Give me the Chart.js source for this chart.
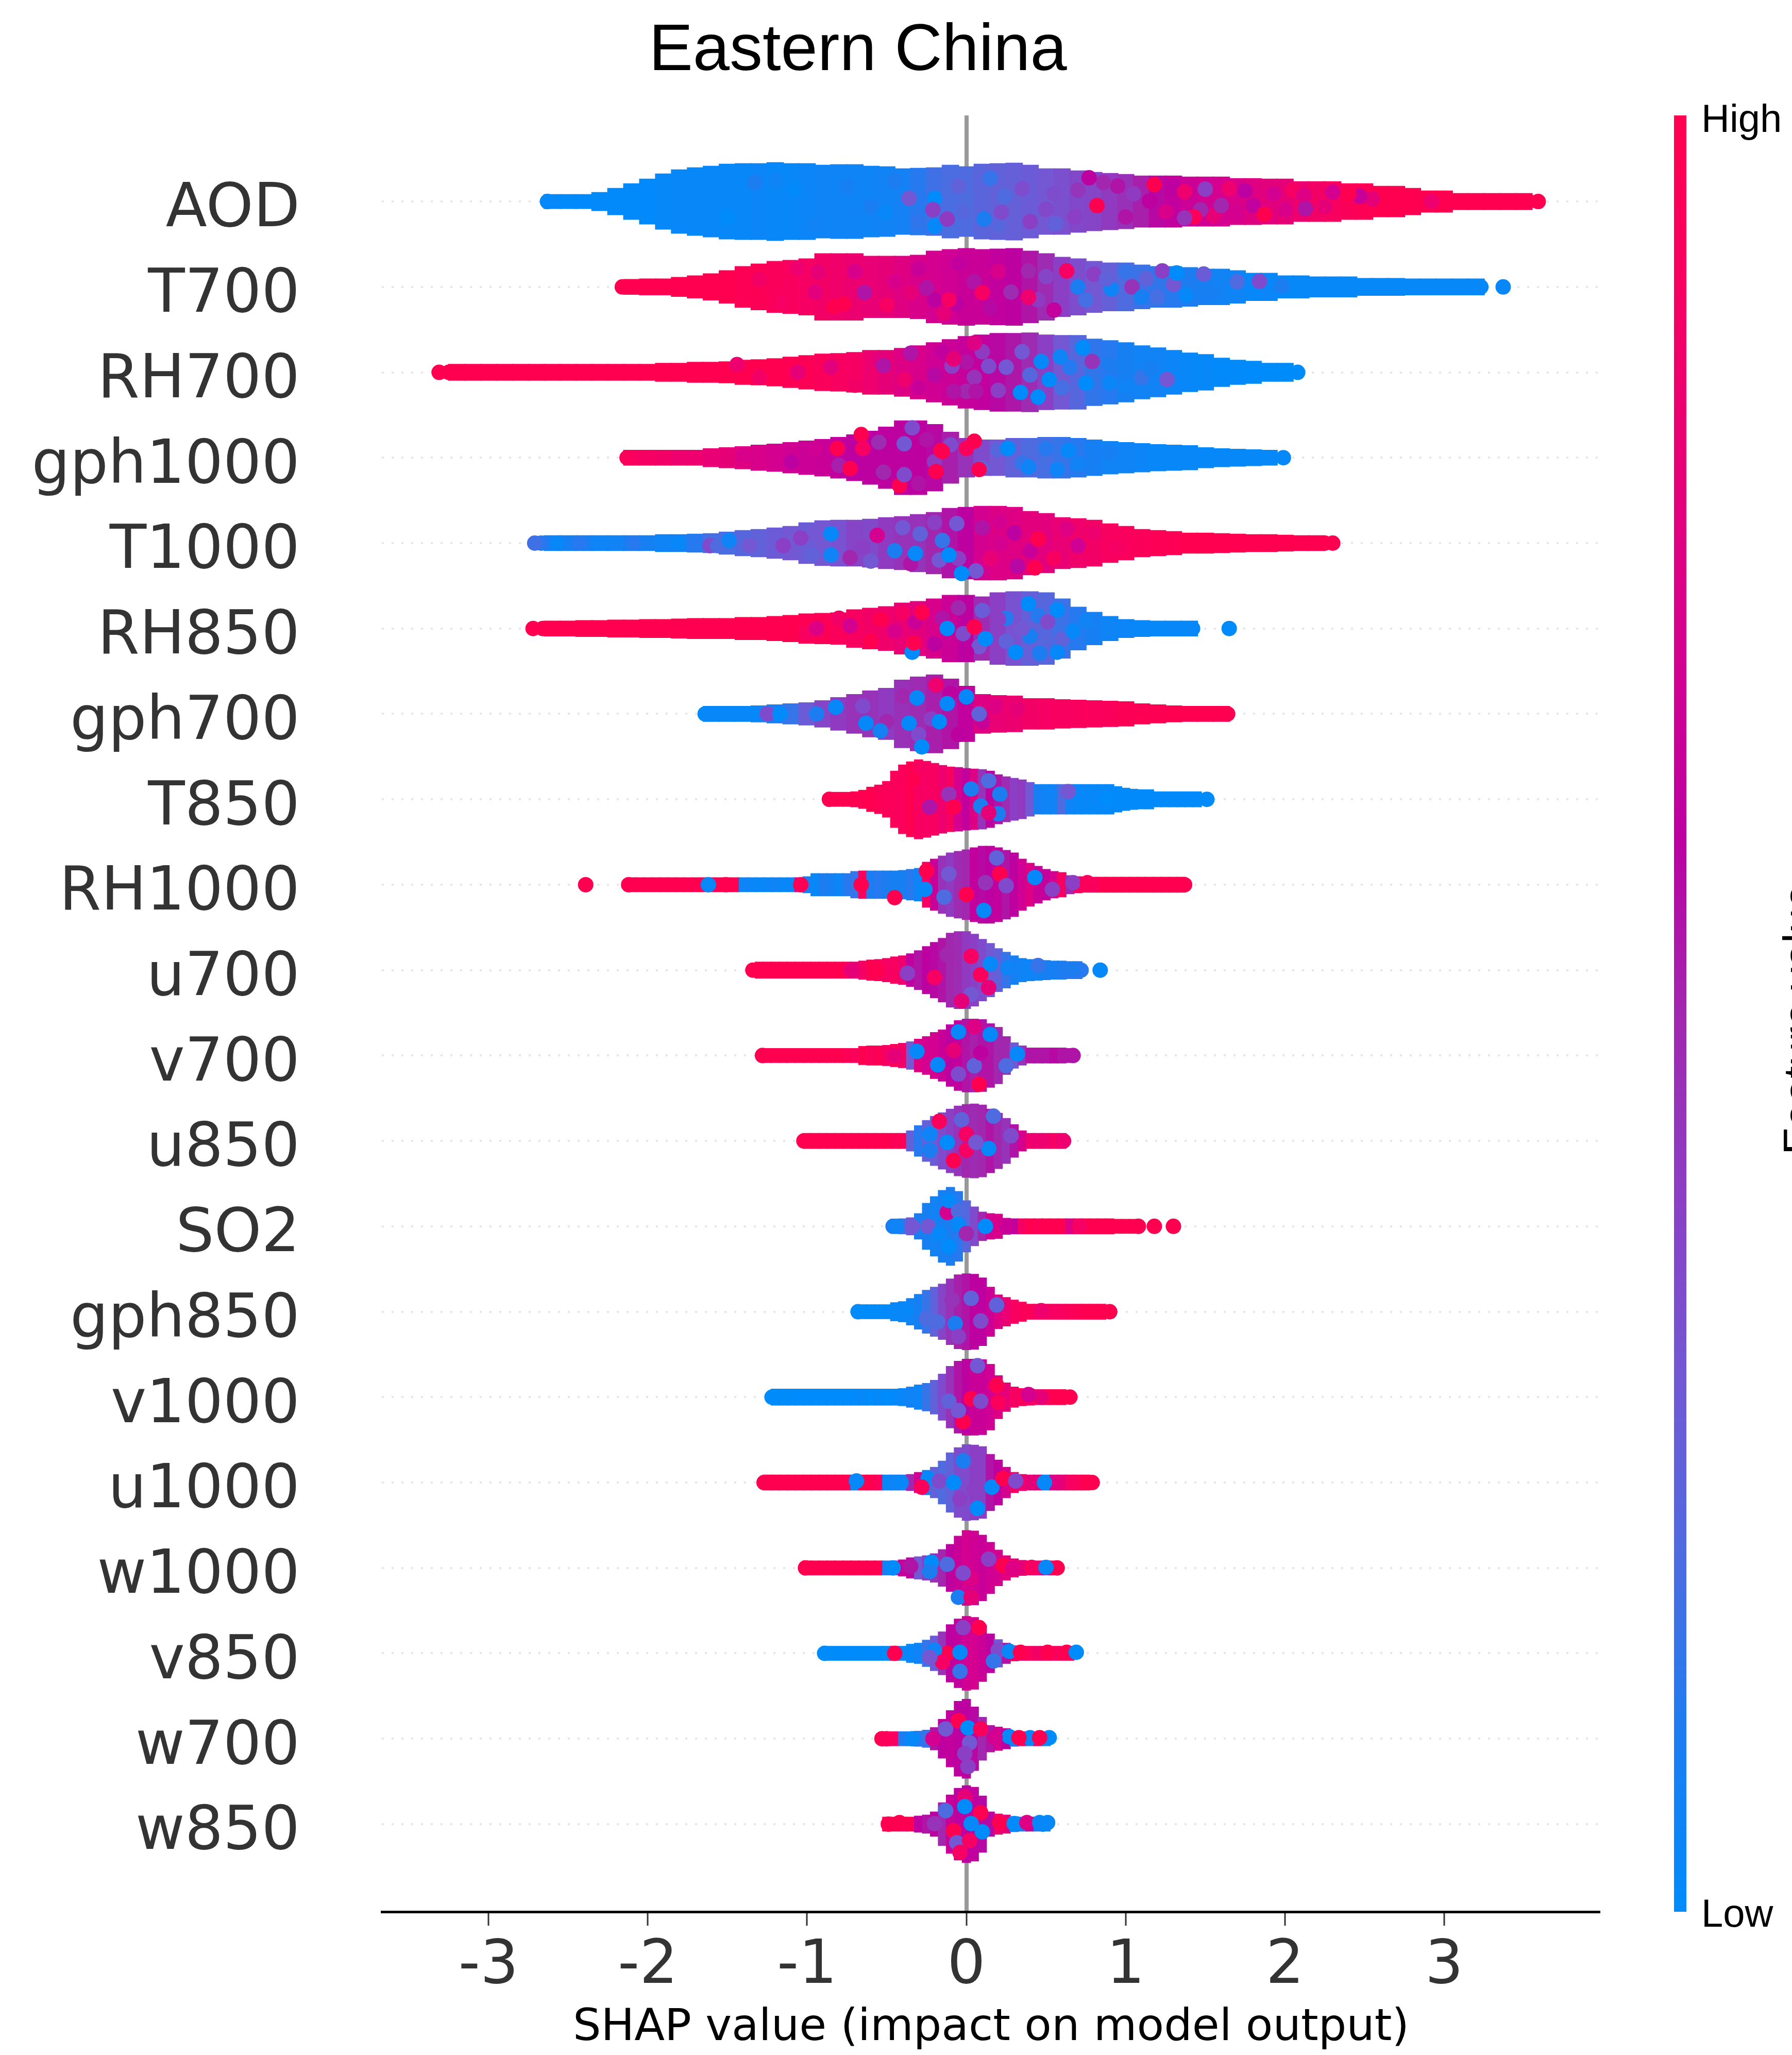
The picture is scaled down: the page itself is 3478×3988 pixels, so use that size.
<!DOCTYPE html>
<html>
<head>
<meta charset="utf-8">
<title>Eastern China</title>
<script src="https://cdn.jsdelivr.net/npm/chart.js@4/dist/chart.umd.min.js"></script>
<style>
  html, body { margin: 0; padding: 0; background: #fff; }
  canvas { display: block; }
</style>
</head>
<body>
<canvas id="chart" width="3478" height="3988"></canvas>
<script>
// features, top row first
const features = ['AOD', 'T700', 'RH700', 'gph1000', 'T1000', 'RH850', 'gph700', 'T850', 'RH1000', 'u700',
  'v700', 'u850', 'SO2', 'gph850', 'v1000', 'u1000', 'w1000', 'v850', 'w700', 'w850'];
const xTicks = [-3, -2, -1, 0, 1, 2, 3];

// each row is binned in SHAP units: first bin, half thickness of the swarm in each bin,
// mean feature value in each bin (0 low .. 100 high), then single dots [shap, offset, value]
const AOD_from = -2.6;
const AOD_spread = [14,14,14,18,26,35,44,54,62,66,69,73,74,74,76,74,74,71,72,72,69,68,64,65,66,71,68,73,74,75,71,64,64,60,57,55,53,50,50,50,48,48,48,45,45,44,44,39,39,39,35,35,30,30,26,21,21,16,16,16,16,16];
const AOD_value = [2,1,1,1,1,1,1,2,3,3,3,3,3,4,3,3,4,5,5,5,5,6,7,12,17,19,20,23,25,26,28,30,33,36,38,42,46,52,58,62,66,68,70,72,76,78,80,84,88,92,96,98,100,100,100,100,100,100,100,100,100,100];
const AOD_dots = [[-2.63,0,2],[3.53,0,100],[3.59,0,100],[-1.5,-30,0],[-1.2,40,5],[-.95,-45,6],[-.75,30,8],[-.6,-10,9],[-.45,40,10],[-.3,-40,14],[-.05,30,25],[-.02,-20,22],[.15,45,15],[.2,-45,22],[.35,25,34],[.5,-15,36],[.55,15,34],[.68,-30,40],[.7,22,44],[.95,30,55],[1,-30,55],[1.05,15,42],[1.25,-20,72],[1.3,25,60],[1.55,-28,80],[1.65,25,85],[1.8,-8,62],[2,-15,72],[2.05,22,90],[2.25,-10,80],[2.3,18,70],[2.55,5,80],[1.18,33,100],[1.5,24,40],[1.37,19,85],[1.75,21,60],[1.93,15,70],[2.12,12,75],[2.13,-14,55],[2.47,10,65],[2.4,15,100],[2.92,0,85],[1.87,-25,100],[1.47,-16,50],[1.15,1,60],[1.69,-21,70],[1.6,-8,50],[1.43,-30,95],[1.37,-32,45],[.82,-8,100],[.4,-39,40],[.24,10,20],[.22,-21,35],[.56,-43,25],[.86,37,50],[-.2,-48,2],[-.2,6,0],[.11,-34,10],[.77,46,60],[-.36,6,30],[-.21,-16,40],[-.12,-34,42],[-1.33,37,10],[-1.08,24,1],[-.51,-21,3]];

const T700_from = -2.1;
const T700_spread = [15,16,16,19,22,26,32,40,45,50,52,55,65,65,65,60,60,60,62,70,73,75,73,74,75,70,65,58,55,50,47,47,43,40,40,38,35,35,32,27,27,22,22,20,20,20,17,17,17,16,16,16,16,16];
const T700_value = [100,100,100,100,100,100,100,98,97,95,93,90,88,86,84,82,80,76,72,70,68,65,65,62,60,55,48,40,34,30,26,20,16,14,12,10,8,6,5,3,3,2,2,2,2,2,2,2,2,2,2,2,2,2];
const T700_dots = [[-2.16,0,100],[3.23,0,2],[3.37,0,3],[-1.3,15,88],[-1.15,-30,90],[-.95,-10,78],[-.7,30,72],[-.5,-35,90],[-.45,10,72],[-.3,35,65],[-.2,-25,60],[-.05,45,62],[.05,10,55],[.15,-40,58],[.2,30,72],[.28,-10,48],[.45,-25,42],[.5,20,38],[.55,-45,62],[.75,-25,18],[.8,25,40],[1,30,15],[1.2,-20,18],[1.3,5,30],[1.55,-12,8],[1.7,10,20],[1.9,-8,4],[-.64,-11,55],[-.77,-33,100],[-.83,-38,100],[-.25,-2,55],[-1.06,36,85],[-.93,29,80],[-.14,-51,80],[-.35,-11,80],[-.06,-33,60],[-.11,-25,90],[.39,31,50],[.63,31,90],[.1,-11,90],[.39,-20,85],[.91,-4,5],[1.04,0,45],[1.23,31,40],[1.32,27,0],[1.38,-16,2],[1.49,25,28],[1.84,11,35],[1.98,2,10],[1.13,16,25],[.88,16,25],[.7,0,10],[1.1,-20,8]];

const RH700_from = -3.2;
const RH700_spread = [16,16,16,16,16,16,16,16,16,16,16,16,16,18,18,20,20,21,24,25,27,30,33,36,37,39,43,43,47,52,58,64,70,73,76,76,77,73,72,72,65,62,58,52,48,43,38,35,28,24,22,18,18];
const RH700_value = [100,100,100,100,100,100,100,100,100,100,100,100,100,100,100,100,100,100,100,100,100,99,97,95,92,90,85,80,75,72,68,66,64,62,58,54,48,40,30,22,14,12,8,6,6,4,3,2,1,1,0,0,0];
const RH700_dots = [[-3.31,0,100],[-3.25,0,100],[2.08,0,0],[-1.3,-10,88],[-.85,10,78],[-.7,-25,88],[-.55,25,78],[-.3,-30,65],[-.2,-5,58],[-.15,40,62],[0,20,55],[.05,-10,45],[.1,40,42],[.2,-35,40],[.25,10,30],[.35,40,30],[.4,-5,22],[.6,-30,18],[.65,10,12],[.9,15,10],[.9,-20,4],[1.1,-10,15],[-.52,13,55],[-1.06,0,80],[-1.44,15,85],[-.35,37,55],[-.09,12,40],[-.39,-14,85],[0,-37,50],[.59,30,5],[.47,21,2],[.73,48,0],[.52,-14,0],[.34,-39,0],[.45,-48,0],[.75,-21,0],[.05,57,75],[.14,12,35],[-.08,26,80],[-.08,-37,55],[.06,-37,55],[1,-28,5],[1.15,8,8],[1.26,-14,30],[.79,21,45]];

const gph1000_from = -2.1;
const gph1000_spread = [15,15,15,15,15,18,20,22,25,27,30,33,36,40,45,52,60,72,72,65,50,38,35,35,38,38,40,40,38,35,32,30,28,26,25,24,20,18,17,16,15];
const gph1000_value = [92,90,88,85,85,82,80,76,72,70,68,66,65,62,60,60,60,60,60,58,52,45,35,30,25,20,18,15,12,8,6,5,4,3,3,3,2,2,2,2,2];
const gph1000_dots = [[-2.13,0,95],[1.99,0,2],[-1.4,5,72],[-1.1,-8,60],[-.95,18,68],[-.8,-15,52],[-.6,-30,60],[-.55,30,48],[-.3,-50,55],[-.25,35,55],[-.2,-8,42],[-.1,25,35],[.1,-20,25],[.2,15,22],[.35,-10,15],[.5,18,12],[.7,-12,6],[.9,10,8],[-.66,45,100],[-.81,18,100],[-.65,18,90],[-.34,58,35],[-.39,27,30],[-.16,14,100],[0,18,95],[-.73,-21,100],[-.42,-54,100],[-.39,-33,35],[-.19,-27,100],[.08,-23,100],[-.52,-28,50],[.39,-18,5],[.57,-23,5],[.26,18,0],[-.15,12,100],[.05,32,100],[.64,14,2]];

const T1000_from = -2.6;
const T1000_spread = [15,15,15,15,15,15,15,17,17,18,19,22,25,27,30,33,40,44,45,45,47,50,52,56,60,68,70,72,72,70,62,58,50,48,45,38,33,27,25,23,20,20,19,18,17,17,16,15,15];
const T1000_value = [5,8,8,5,6,8,8,5,8,12,18,18,22,25,28,30,28,30,32,38,36,42,45,45,50,55,60,70,74,75,78,78,82,86,88,92,94,96,98,98,100,100,100,100,100,100,100,100,100];
const T1000_dots = [[2.25,0,100],[2.3,0,100],[-2.64,0,10],[-2.67,0,12],[-1.15,-5,40],[-.95,20,30],[-.65,-8,40],[-.6,-35,30],[-.4,30,30],[-.35,-40,55],[-.2,40,40],[-.15,5,15],[-.05,-30,40],[.1,30,55],[.15,-30,82],[.3,20,60],[.32,-45,58],[.4,-15,65],[.55,-30,92],[.7,-5,68],[.8,20,85],[.95,-10,90],[-2.71,0,17],[-2.57,0,3],[-2.43,0,12],[-2.28,0,5],[-2.09,0,12],[-1.81,0,3],[-1.61,-5,35],[-1.56,-5,20],[-1.36,-5,30],[-1.49,5,5],[-1.04,10,40],[-.85,18,2],[-.97,-23,25],[-.85,-23,5],[-.73,-28,50],[-.56,15,70],[-.45,-15,10],[-.32,-20,2],[-.29,18,25],[-.17,-33,30],[-.11,-23,0],[-.06,38,30],[.21,0,70],[.45,8,100],[.43,-48,100],[.06,-54,30],[-.03,-59,0],[.63,28,75],[.21,41,70]];

const RH850_from = -2.6;
const RH850_spread = [15,15,16,16,17,17,18,18,19,20,20,20,22,22,24,26,29,30,31,37,40,43,50,53,58,65,65,62,70,72,72,70,58,42,32,24,18,16,15,15,15];
const RH850_value = [100,100,100,100,100,100,100,100,100,100,100,100,100,100,100,100,98,97,95,92,88,86,82,78,72,66,60,48,40,32,26,22,16,12,8,5,4,3,2,2,2];
const RH850_dots = [[-2.72,0,100],[-2.66,0,100],[1.42,0,3],[1.65,0,0],[-1,-10,92],[-.8,20,88],[-.6,-25,100],[-.45,-5,72],[-.4,30,90],[-.2,-30,60],[-.15,20,55],[-.05,40,50],[.08,-35,30],[.1,35,28],[.25,20,12],[.25,-25,25],[.4,-15,8],[.45,25,12],[.6,-20,25],[.75,15,6],[-.73,5,70],[-.94,0,75],[-.54,18,100],[-.32,13,65],[-.28,31,100],[-.12,0,0],[-.02,-10,35],[-.34,-46,0],[-.33,-28,100],[0,-46,60],[.12,-20,0],[.31,-46,0],[.39,48,0],[.57,36,0],[.2,18,40],[.51,13,35],[.67,-5,2],[.57,-46,3],[.46,-48,10],[.35,0,30],[.05,3,100]];

const gph700_from = -1.6;
const gph700_spread = [15,15,15,16,18,20,22,26,32,38,45,50,66,72,76,68,54,38,36,35,30,30,28,27,26,25,24,20,18,16,15,15,15];
const gph700_value = [3,3,3,5,10,15,28,38,42,45,45,42,46,48,52,55,62,76,82,84,88,90,92,93,94,95,97,98,99,100,100,100,100];
const gph700_dots = [[-1.64,0,0],[1.64,0,100],[-.65,15,35],[-.5,-15,50],[-.4,35,50],[-.3,-40,35],[-.22,-10,40],[-.1,40,60],[-.05,-40,60],[.1,-15,65],[.18,15,75],[-1.62,0,2],[-1.47,0,2],[-1.35,0,2],[-1.25,0,35],[-1.17,0,0],[-.82,13,2],[-.94,0,10],[-.63,-18,2],[-.54,-33,8],[-.31,31,2],[-.12,20,2],[-.19,56,85],[-.36,-18,2],[-.17,-15,0],[0,33,2],[.08,0,25],[-.28,-64,0],[.32,10,80]];

const T850_from = -.85;
const T850_spread = [14,14,14,15,18,24,28,35,55,67,73,77,74,70,66,63,62,60,59,58,55,48,44,41,38,33,29,29,29,29,29,29,29,29,29,29,25,22,20,19,19,15,15,15,15,15,15];
const T850_value = [100,100,100,100,100,100,98,96,95,95,100,92,90,92,85,90,70,62,75,45,60,55,48,40,42,30,8,5,6,20,5,3,3,2,2,2,1,1,1,1,1,1,1,1,1,1,1];
const T850_dots = [[-.86,0,100],[1.51,0,0],[-.34,38,100],[-.11,10,45],[-.23,-15,55],[-.08,-15,100],[.14,36,20],[.03,20,10],[.21,10,10],[.09,-13,10],[.2,-28,10],[.64,15,30],[.88,0,0],[.14,-26,80]];

const RH1000_from = -2.1;
const RH1000_spread = [14,14,14,14,14,14,14,14,14,14,14,14,14,14,14,14,14,14,14,14,14,14,16,22,22,22,22,22,26,27,27,27,27,27,28,30,32,44,50,56,62,65,68,72,75,75,72,67,62,50,42,36,30,26,24,18,16,15,15,15,15,15,15,15,15,15,15,15,15,15];
const RH1000_value = [100,100,100,100,100,100,100,100,100,100,95,100,100,100,5,4,3,4,5,3,3,70,8,3,10,8,4,12,15,92,10,12,10,8,8,12,5,90,65,45,42,48,50,62,58,60,62,55,60,68,75,65,62,70,92,50,92,95,90,100,100,100,100,100,100,100,100,100,100,100];
const RH1000_dots = [[-2.39,0,100],[-2.12,0,100],[1.37,0,100],[-1.62,0,2],[-1.51,0,100],[-1.04,0,97],[-.66,0,100],[-.45,-25,100],[-.25,27,100],[-.26,-9,2],[-.11,21,30],[0,-19,100],[.21,21,100],[.11,-50,2],[.19,52,25],[.43,14,2],[.12,4,45],[.25,-2,35],[.67,4,40],[-.14,-24,20],[.54,-9,40],[.76,4,95]];

const u700_from = -1.3;
const u700_spread = [16,16,16,16,16,16,16,16,16,16,16,16,16,18,20,21,23,26,28,32,38,46,54,62,72,75,75,70,60,52,42,35,28,23,21,20,19,18,18,17,17];
const u700_value = [100,100,100,100,100,100,100,100,100,100,100,98,82,88,100,95,90,92,85,62,55,60,58,55,50,48,42,40,35,30,25,15,8,5,4,6,8,8,10,12,12];
const u700_dots = [[-1.34,0,100],[.72,0,12],[.84,0,2],[-.72,0,80],[-.56,0,100],[-.37,-6,40],[-.2,-14,90],[-.12,30,50],[.03,27,90],[.09,-9,95],[.15,12,2],[.26,4,5],[.14,-34,80],[.03,-47,30],[.45,9,15],[.67,2,10],[-.03,-60,80]];

const v700_from = -1.25;
const v700_spread = [14,14,14,14,14,14,14,14,14,14,14,14,18,19,19,20,22,24,27,32,37,45,50,60,68,71,71,70,62,55,37,25,19,15,15,15,15,15,14];
const v700_value = [100,100,100,100,100,100,100,100,100,100,98,95,100,95,97,90,95,88,30,75,70,70,65,60,62,55,52,55,55,50,50,30,45,55,55,55,58,55,55];
const v700_dots = [[-1.28,0,100],[.67,0,55],[-.45,0,80],[-.31,8,2],[-.18,-18,3],[-.08,10,80],[.05,-20,25],[.32,3,2],[.25,-20,20],[.15,41,3],[-.05,-36,35],[.08,-56,100],[.05,56,75],[-.05,46,3],[.09,5,60]];

const u850_from = -1;
const u850_spread = [15,15,15,15,15,15,15,15,15,15,15,15,15,20,30,40,48,55,62,68,71,72,70,62,54,44,32,20,15,15,15,15,15];
const u850_value = [100,100,100,100,100,100,100,100,100,100,100,97,98,25,12,25,28,35,40,45,50,48,50,55,50,45,55,70,85,85,85,90,85];
const u850_dots = [[-1.02,0,100],[.61,0,85],[-.23,13,5],[-.12,-3,0],[-.17,38,95],[-.03,41,25],[0,13,90],[0,-18,90],[-.08,-38,100],[.14,-15,2],[.17,48,20],[.28,10,35],[-.23,-18,10],[.06,-3,30]];

const SO2_from = -.45;
const SO2_spread = [14,15,17,25,45,58,70,76,68,50,38,28,25,24,16,15,15,15,15,15,15,15,15,15,15,15,15,15,14,14,14];
const SO2_value = [3,15,30,10,8,6,8,10,12,22,35,50,70,72,65,60,90,100,98,100,100,100,75,95,100,100,100,100,100,100,100];
const SO2_dots = [[-.46,0,10],[1.08,0,100],[-.44,0,5],[-.34,0,30],[-.24,0,30],[-.12,27,70],[-.11,50,2],[-.05,30,20],[-.05,4,2],[.12,0,0],[.26,0,65],[-.17,-14,2],[-.11,-39,0],[.71,0,90],[1.18,0,100],[1.3,0,100],[0,-14,50]];

const gph850_from = -.65;
const gph850_spread = [14,14,14,14,18,20,26,34,42,48,54,64,72,74,73,66,48,33,28,23,19,15,15,15,15,15,15,15,15,15,15];
const gph850_value = [0,0,0,1,3,3,5,8,15,25,38,45,52,55,60,60,66,75,82,92,95,96,92,92,90,92,95,97,100,100,100];
const gph850_dots = [[-.68,0,0],[.9,0,100],[-.38,2,3],[-.25,-13,20],[-.18,-20,20],[-.07,-23,10],[.03,26,25],[.09,-18,35],[-.09,23,45],[.19,13,25],[.47,2,85],[-.05,-48,40]];

const v1000_from = -1.2;
const v1000_spread = [16,16,16,16,16,16,16,16,16,16,16,16,16,16,16,16,17,20,24,27,33,45,60,70,74,74,73,64,42,28,20,17,16,15,15,15,15];
const v1000_value = [0,0,0,0,0,0,0,0,0,0,1,2,0,2,1,2,3,8,4,15,25,35,45,55,60,65,65,68,75,80,90,95,90,92,100,100,100];
const v1000_dots = [[-1.22,0,0],[.65,0,100],[-.5,0,0],[-.35,0,5],[-.11,-8,25],[.03,-3,100],[.09,-8,35],[.19,23,100],[.2,-10,95],[.07,61,30],[-.02,-48,100],[-.05,-26,30],[.47,0,80],[.39,5,70]];

const u1000_from = -1.25;
const u1000_spread = [15,15,15,15,15,15,15,15,15,15,15,15,15,15,15,15,15,15,16,20,24,30,42,58,68,74,73,70,55,44,30,20,16,15,15,15,15,15,15,15,15];
const u1000_value = [100,100,100,100,100,100,100,100,100,100,100,2,100,100,95,3,5,15,50,70,10,25,20,25,35,35,40,40,55,60,70,88,85,80,80,2,75,80,90,95,100];
const u1000_dots = [[-1.27,0,100],[.79,0,100],[-.69,3,2],[-.41,0,3],[-.24,8,2],[-.17,3,35],[-.08,0,0],[.16,-9,2],[.07,-50,0],[-.02,42,10],[.23,8,100],[.31,3,35],[.49,0,2],[-.04,-32,40],[.05,-14,40],[-.28,-9,95]];

const w1000_from = -1;
const w1000_spread = [14,14,14,14,14,14,14,14,14,14,14,14,16,20,22,24,28,36,46,62,73,72,64,50,35,24,18,15,14,14,14,14];
const w1000_value = [100,100,100,100,100,100,100,100,100,100,8,50,65,60,30,40,45,50,60,65,70,68,65,68,70,78,80,80,90,85,60,100];
const w1000_dots = [[-1.01,0,100],[.57,0,100],[-.46,0,0],[-.35,3,55],[-.22,11,0],[-.12,7,20],[.23,5,100],[.29,-1,75],[.41,1,90],[-.05,-57,10],[.03,-57,80],[.03,-20,75],[-.02,-10,35],[.14,17,40],[-.23,-7,10],[.5,1,2]];

const v850_from = -.85;
const v850_spread = [14,14,14,14,14,14,14,14,14,14,18,20,26,34,42,56,67,72,70,55,38,27,20,15,14,14,14,14,14,14,14];
const v850_value = [0,0,0,0,0,0,0,0,90,2,3,5,15,28,45,60,62,68,70,66,60,30,55,90,85,92,88,95,90,95,90];
const v850_dots = [[-.89,0,0],[-.45,0,100],[-.12,0,100],[-.04,2,2],[-.2,6,5],[-.04,-35,15],[.2,6,35],[.27,4,2],[.34,2,100],[.51,2,100],[.63,2,100],[.69,2,0],[-.02,50,40],[.08,50,100],[.17,-15,15],[-.15,-17,90],[-.23,-8,30]];

const w700_from = -.5;
const w700_spread = [14,14,14,14,15,17,22,38,55,73,77,62,42,26,23,20,15,14,14,14,14];
const w700_value = [95,90,10,8,12,15,55,60,62,60,60,58,50,55,70,60,10,90,10,85,5];
const w700_dots = [[-.53,0,100],[-.5,0,95],[-.34,0,2],[-.21,0,70],[-.13,19,30],[-.05,35,100],[.01,21,0],[.09,19,95],[.02,-8,30],[.27,4,2],[.4,2,2],[.52,2,0],[.33,2,100],[.46,2,100],[-.01,-29,40],[.01,-54,40],[.18,2,70]];

const w850_from = -.5;
const w850_spread = [14,14,14,14,16,18,24,42,57,70,75,72,55,24,20,18,15,14,14,14,14];
const w850_value = [100,100,95,100,60,55,60,50,65,60,60,62,58,58,85,80,10,10,60,10,5];
const w850_dots = [[-.49,0,100],[.48,0,2],[-.42,3,100],[-.2,1,45],[-.13,26,20],[-.01,53,80],[-.01,34,0],[.09,22,100],[.03,1,2],[.1,-15,0],[-.08,-13,100],[.21,3,100],[.3,1,0],[.38,3,75],[.51,3,2],[.46,3,3],[-.06,-36,30],[.02,-32,90],[-.04,-55,90]];

const rowFrom = [AOD_from, T700_from, RH700_from, gph1000_from, T1000_from, RH850_from, gph700_from, T850_from, RH1000_from, u700_from, v700_from, u850_from, SO2_from, gph850_from, v1000_from, u1000_from, w1000_from, v850_from, w700_from, w850_from];
const rowBin = [.1, .1, .1, .1, .1, .1, .1, .05, .05, .05, .05, .05, .05, .05, .05, .05, .05, .05, .05, .05];
const rowSpread = [AOD_spread, T700_spread, RH700_spread, gph1000_spread, T1000_spread, RH850_spread, gph700_spread, T850_spread, RH1000_spread, u700_spread, v700_spread, u850_spread, SO2_spread, gph850_spread, v1000_spread, u1000_spread, w1000_spread, v850_spread, w700_spread, w850_spread];
const rowValue = [AOD_value, T700_value, RH700_value, gph1000_value, T1000_value, RH850_value, gph700_value, T850_value, RH1000_value, u700_value, v700_value, u850_value, SO2_value, gph850_value, v1000_value, u1000_value, w1000_value, v850_value, w700_value, w850_value];
const rowDots = [AOD_dots, T700_dots, RH700_dots, gph1000_dots, T1000_dots, RH850_dots, gph700_dots, T850_dots, RH1000_dots, u700_dots, v700_dots, u850_dots, SO2_dots, gph850_dots, v1000_dots, u1000_dots, w1000_dots, v850_dots, w700_dots, w850_dots];

// low to high feature value, every 10%
const colorStops = [[0,139,251],[28,125,241],[79,107,224],[115,87,211],[139,63,196],[161,39,174],[189,0,160],[212,0,144],[230,0,120],[246,0,99],[255,0,81]];

const ROW_PX = 165.74; // spread and dot offsets are read in 1/ROW_PX of a row

const valueColor = v => {
  const t = Math.max(0, Math.min(100, v)) / 10;
  const i = Math.min(9, Math.floor(t));
  const a = colorStops[i], b = colorStops[i + 1], f = t - i;
  return `rgb(${a.map((c, k) => Math.round(c + (b[k] - c) * f)).join(',')})`;
};

const datasets = [];
features.forEach((name, r) => {
  const rowY = features.length - 1 - r;
  datasets.push({
    type: 'bar',
    label: name,
    data: rowSpread[r].map((h, j) => ({ x: rowFrom[r] + j * rowBin[r], y: [rowY - h / ROW_PX, rowY + h / ROW_PX] })),
    backgroundColor: rowValue[r].map(valueColor),
    barThickness: rowBin[r] === .1 ? 33 : 17,
    grouped: false,
    order: 2
  });
  datasets.push({
    type: 'scatter',
    label: name + ' dots',
    data: rowDots[r].map(d => ({ x: d[0], y: rowY + d[1] / ROW_PX })),
    backgroundColor: rowDots[r].map(d => valueColor(d[2])),
    pointRadius: 15,
    borderWidth: 0,
    order: 1
  });
});

// title, colour bar and its labels sit outside the axes
const sideParts = {
  id: 'sideParts',
  afterDraw(chart) {
    const { ctx, chartArea } = chart;
    ctx.save();
    ctx.fillStyle = '#000';
    ctx.textBaseline = 'alphabetic';
    ctx.textAlign = 'center';
    ctx.font = '128px "Liberation Sans"';
    ctx.fillText('Eastern China', 1665, 136);

    const grad = ctx.createLinearGradient(0, chartArea.bottom, 0, chartArea.top);
    colorStops.forEach((c, i) => grad.addColorStop(i / 10, `rgb(${c.join(',')})`));
    ctx.fillStyle = grad;
    ctx.fillRect(3249, chartArea.top, 24, chartArea.bottom - chartArea.top);

    ctx.fillStyle = '#000';
    ctx.textAlign = 'left';
    ctx.font = '76px "Liberation Sans"';
    ctx.fillText('High', 3302, 256);
    ctx.fillText('Low', 3302, 3739);

    ctx.font = '86px "Liberation Sans"';
    ctx.translate(3521, 2241);
    ctx.rotate(-Math.PI / 2);
    ctx.fillText('Feature value', 0, 0);
    ctx.restore();
  }
};

new Chart(document.getElementById('chart'), {
  type: 'bar',
  data: { datasets },
  plugins: [sideParts],
  options: {
    responsive: false,
    animation: false,
    devicePixelRatio: 1,
    layout: { padding: { top: 224, right: 372, left: 0, bottom: 0 } },
    plugins: { legend: { display: false }, tooltip: { enabled: false }, title: { display: false } },
    scales: {
      x: {
        type: 'linear',
        offset: false,
        min: -3.67,
        max: 3.98,
        afterBuildTicks: s => { s.ticks = xTicks.map(v => ({ value: v })); },
        afterFit: s => { s.height = 278; s.paddingLeft = 0; s.paddingRight = 0; },
        border: { color: '#000', width: 5 },
        grid: {
          offset: false,
          color: c => (c.tick && c.tick.value === 0 ? '#999999' : 'transparent'),
          lineWidth: c => (c.tick && c.tick.value === 0 ? 8 : 0),
          tickColor: '#333333',
          tickWidth: 3,
          tickLength: 27
        },
        ticks: {
          autoSkip: false,
          maxRotation: 0,
          padding: 10,
          color: '#333333',
          font: { family: '"DejaVu Sans"', size: 117 }
        },
        title: {
          display: true,
          text: 'SHAP value (impact on model output)',
          color: '#000',
          padding: 0,
          font: { family: '"DejaVu Sans"', size: 86 }
        }
      },
      y: {
        type: 'linear',
        min: -1.026,
        max: 20.008,
        afterBuildTicks: s => { s.ticks = features.map((f, i) => ({ value: features.length - 1 - i })); },
        afterFit: s => { s.width = 741; s.paddingTop = 0; s.paddingBottom = 0; },
        border: { display: false, dash: [4, 15] },
        grid: { color: '#e6e6e6', lineWidth: 4, drawTicks: false },
        ticks: {
          autoSkip: false,
          padding: 159,
          labelOffset: 18,
          color: '#333333',
          font: { family: '"DejaVu Sans"', size: 117 },
          callback: v => features[features.length - 1 - v]
        }
      }
    }
  }
});
</script>
</body>
</html>
